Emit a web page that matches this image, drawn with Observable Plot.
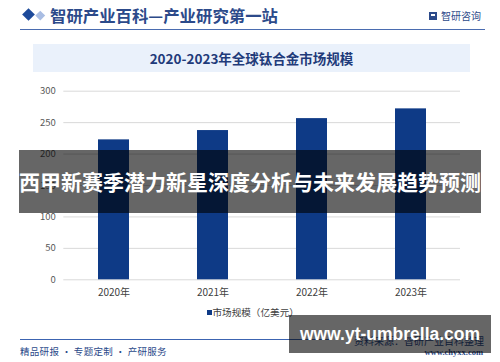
<!DOCTYPE html>
<html><head><meta charset="utf-8">
<script src="https://cdn.jsdelivr.net/npm/d3@7"></script>
<script src="https://cdn.jsdelivr.net/npm/@observablehq/plot@0.6"></script>
<style>
body{margin:0;background:#fff;}
#wrap{position:relative;width:500px;height:362px;overflow:hidden;background:#fff;font-family:"Noto Sans CJK SC","Noto Sans",sans-serif;}
.abs{position:absolute;white-space:nowrap;}
#chart{position:absolute;left:0;top:0;}
</style></head><body>
<div id="wrap">
  <div id="chart"></div>
  <!-- header -->
  <div class="abs" style="left:24px;top:10px;width:9px;height:9px;background:#1d4a9a;transform:rotate(45deg);"></div>
  <div class="abs" style="left:37px;top:11.5px;width:6.5px;height:6.5px;background:#a9bde3;transform:rotate(45deg);"></div>
  <div class="abs" id="hdr" style="left:50px;top:4px;line-height:22px;font-size:16.4px;font-weight:700;color:#2c4a8a;"></div>
  <div class="abs" style="left:429px;top:12px;width:8px;height:8px;background:#2c4a8a;"></div>
  <div class="abs" style="left:431px;top:14px;width:4px;height:2px;background:#fff;"></div>
  <div class="abs" id="logo" style="left:441px;top:9px;line-height:14px;font-size:10px;color:#2c4a8a;"></div>
  <div class="abs" style="left:20px;top:28.5px;width:465px;height:1.5px;background:#4a6cb0;"></div>
  <!-- title box -->
  <div class="abs" style="left:33px;top:44px;width:437px;height:28px;background:#eaf1fb;"></div>
  <div class="abs" id="title" style="left:33px;top:44px;width:437px;line-height:28px;text-align:center;font-size:13.5px;font-weight:700;color:#1f3b7a;"></div>
  <!-- legend -->
  <div class="abs" style="left:207px;top:310px;width:4.5px;height:4.5px;background:#0e3a86;"></div>
  <div class="abs" id="legend" style="left:212.5px;top:305px;line-height:15px;font-size:9.6px;color:#404040;"></div>
  <!-- footer -->
  <div class="abs" style="left:20px;top:339px;width:310px;height:1px;background:#3c64b1;"></div>
  <div class="abs" id="foot" style="left:20px;top:344px;line-height:14px;font-size:9.5px;letter-spacing:0.3px;color:#2c4a8a;"></div>
  <div class="abs" id="src" style="right:16px;top:334px;line-height:14px;font-size:10px;color:#2c4a8a;"></div>
  <div class="abs" id="site" style="right:17px;top:347px;line-height:10px;font-size:8.5px;font-weight:700;font-family:'Liberation Serif',serif;color:#2c4a8a;"></div>
  <!-- overlay banners -->
  <div class="abs" style="left:19px;top:150px;width:462px;height:63px;background:rgba(0,0,0,0.6);"></div>
  <div class="abs" id="banner" style="left:0;top:150px;width:500px;line-height:63px;text-align:center;font-size:21px;font-weight:700;color:#fff;"></div>
  <div class="abs" style="left:289px;top:315px;width:202px;height:38px;background:rgba(0,0,0,0.6);"></div>
  <div class="abs" id="url" style="left:289px;top:315px;width:202px;line-height:38px;text-align:center;font-size:17.5px;font-weight:700;font-family:'Liberation Sans',Arial,sans-serif;color:#fff;"></div>
</div>
<script>
const years = ["2020年", "2021年", "2022年", "2023年"];
const marketSize = [222.6, 237.4, 256.4, 271.9];
const yTicks = [0, 50, 100, 150, 200, 250, 300];

const headerText = "智研产业百科—产业研究第一站";
const logoText = "智研咨询";
const titleText = "2020-2023年全球钛合金市场规模";
const legendText = "市场规模（亿美元）";
const footText = "精品研报 · 专题定制 · 产研服务";
const sourceText = "资料来源：智研产业百科整理";
const siteText = "www.chyxx.com";
const bannerText = "西甲新赛季潜力新星深度分析与未来发展趋势预测";
const urlText = "www.yt-umbrella.com";

document.getElementById("hdr").textContent = headerText;
document.getElementById("logo").textContent = logoText;
document.getElementById("title").textContent = titleText;
document.getElementById("legend").textContent = legendText;
document.getElementById("foot").textContent = footText;
document.getElementById("src").textContent = sourceText;
document.getElementById("site").textContent = siteText;
document.getElementById("banner").textContent = bannerText;
document.getElementById("url").textContent = urlText;

const data = years.map((y, i) => ({year: y, value: marketSize[i]}));

const chart = Plot.plot({
  width: 500,
  height: 362,
  marginTop: 90.7,
  marginBottom: 82.7,
  marginLeft: 63.3,
  marginRight: 40,
  style: {background: "transparent", fontFamily: "'Noto Sans CJK SC','Noto Sans',sans-serif", fontSize: "10px"},
  x: {domain: years, paddingInner: 0.69, paddingOuter: 0.345, label: null},
  y: {domain: [0, 300], label: null},
  marks: [
    Plot.ruleY(yTicks, {stroke: "#d9d9d9", strokeWidth: 1}),
    Plot.barY(data, {x: "year", y: "value", fill: "#0e3a86"}),
    Plot.axisY(yTicks, {tickSize: 0, tickPadding: 8, fill: "#595959", fontSize: 9.5, label: null}),
    Plot.axisX({tickSize: 0, tickPadding: 9, fill: "#404040", fontSize: 10, label: null})
  ]
});
document.getElementById("chart").appendChild(chart);
</script>
</body></html>
